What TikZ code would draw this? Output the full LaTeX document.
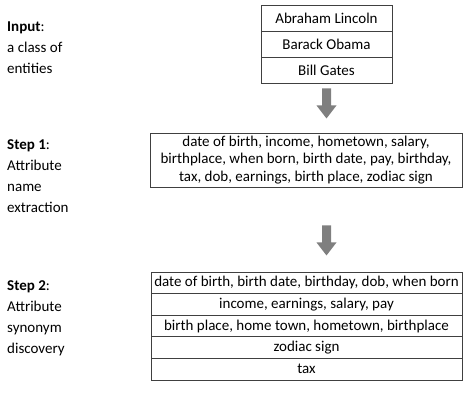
\documentclass[tikz,border=0pt]{standalone}
\usepackage{fontspec}
\setmainfont{Carlito}
\usetikzlibrary{calc}
\definecolor{arrowgray}{HTML}{7F7F7F}
\definecolor{linegray}{HTML}{404040}
\begin{document}
\begin{tikzpicture}[x=1pt,y=1pt,
  boxfont/.style={font=\fontsize{15}{17.5}\selectfont},
  cell/.style={boxfont, draw=linegray, line width=0.9pt, inner sep=0pt, align=center},
  entity/.style={cell, minimum width=131pt, minimum height=26pt},
  group/.style={cell, minimum width=311pt, minimum height=21.6pt},
  steplabel/.style={anchor=north west, inner sep=0pt, align=left, font=\fontsize{15}{21}\selectfont}]
\useasboundingbox (0,0) rectangle (466,-408);

% labels
\node[steplabel] (lin) at (7,-22) {\textbf{Input}:\\a class of\\entities};
\node[steplabel] (ls1) at (7,-139) {\textbf{Step 1}:\\Attribute\\name\\extraction};
\node[steplabel] (ls2) at (7,-280) {\textbf{Step 2}:\\Attribute\\synonym\\discovery};

% input entities
\node[entity] (e1) at (326.5,-18) {Abraham Lincoln};
\node[entity] (e2) at (326.5,-44) {Barack Obama};
\node[entity] (e3) at (326.5,-70) {Bill Gates};

% step 1
\node[cell, minimum width=312pt, minimum height=54pt] (s1) at (306,-160)
  {date of birth, income, hometown, salary,\\birthplace, when born, birth date, pay, birthday,\\tax, dob, earnings, birth place, zodiac sign};

% step 2
\node[group] (g1) at (306.5,-282.8) {date of birth, birth date, birthday, dob, when born};
\node[group] (g2) at (306.5,-304.4) {income, earnings, salary, pay};
\node[group] (g3) at (306.5,-326.0) {birth place, home town, hometown, birthplace};
\node[group] (g4) at (306.5,-347.6) {zodiac sign};
\node[group] (g5) at (306.5,-369.2) {tax};

% block arrows
\coordinate (a1s) at ($(e3.south)+(0,-5)$);
\coordinate (a1e) at ($(e3.south)+(0,-35)$);
\fill[arrowgray] ($(a1s)+(-4.5,0)$) -- ($(a1s)+(4.5,0)$) -- ($(a1e)+(4.5,13)$) -- ($(a1e)+(10,13)$)
  -- (a1e) -- ($(a1e)+(-10,13)$) -- ($(a1e)+(-4.5,13)$) -- cycle;
\coordinate (a2s) at ($(s1.south-|e3.south)+(0,-38)$);
\coordinate (a2e) at ($(s1.south-|e3.south)+(0,-68)$);
\fill[arrowgray] ($(a2s)+(-4.5,0)$) -- ($(a2s)+(4.5,0)$) -- ($(a2e)+(4.5,13)$) -- ($(a2e)+(10,13)$)
  -- (a2e) -- ($(a2e)+(-10,13)$) -- ($(a2e)+(-4.5,13)$) -- cycle;
\end{tikzpicture}
\end{document}
